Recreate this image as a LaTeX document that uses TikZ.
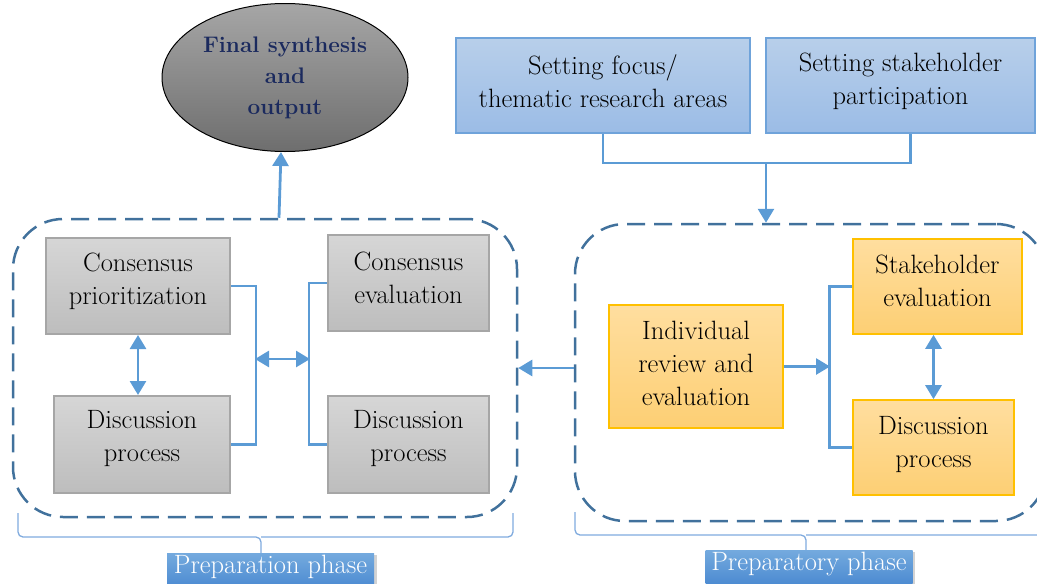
\documentclass[tikz,border=0pt]{standalone}
\usepackage{fontspec}
\usetikzlibrary{arrows.meta,shapes.geometric,shadows}

\definecolor{linkblue}{HTML}{5B9BD5}
\definecolor{dashblue}{HTML}{41719C}
\definecolor{braceblue}{HTML}{80ABDE}
\definecolor{graytop}{HTML}{D6D6D6}
\definecolor{graybot}{HTML}{BDBDBD}
\definecolor{grayedge}{HTML}{A6A6A6}
\definecolor{orangetop}{HTML}{FFDE9F}
\definecolor{orangebot}{HTML}{FDCF74}
\definecolor{orangeedge}{HTML}{FFC000}
\definecolor{bluetop}{HTML}{B8CFEA}
\definecolor{bluebot}{HTML}{9BBCE6}
\definecolor{blueedge}{HTML}{6FA3DA}
\definecolor{ovaltop}{HTML}{A6A6A6}
\definecolor{ovalbot}{HTML}{6E6E6E}
\definecolor{navy}{HTML}{1B2A5E}
\definecolor{tagtop}{HTML}{74AADE}
\definecolor{tagbot}{HTML}{4585CF}

\begin{document}
\begin{tikzpicture}[x=1pt,y=-1pt,
  txt/.style={font=\fontsize{26.5}{33}\selectfont, align=center, text=black, inner sep=1pt},
  lift/.style={txt, yshift=#1},
  graybox/.style={rectangle, draw=grayedge, line width=2pt, top color=graytop, bottom color=graybot},
  orangebox/.style={rectangle, draw=orangeedge, line width=1.6pt, top color=orangetop, bottom color=orangebot},
  bluebox/.style={rectangle, draw=blueedge, line width=1.6pt, top color=bluetop, bottom color=bluebot},
  conn/.style={draw=linkblue, line width=2.8pt},
  arr/.style={conn, -{Triangle[width=16pt,length=14pt]}},
  dbl/.style={conn, {Triangle[width=16pt,length=14pt]}-{Triangle[width=16pt,length=14pt]}},
  phasebox/.style={rectangle, draw=dashblue, line width=2.5pt, dash pattern=on 18pt off 9pt, rounded corners=50pt},
  bracket/.style={draw=braceblue, line width=1.3pt, rounded corners=5pt},
  tag/.style={rectangle, top color=tagtop, bottom color=tagbot, minimum width=207pt, minimum height=40pt, anchor=north,
    drop shadow={shadow xshift=2.5pt, shadow yshift=-1.5pt, opacity=0.35}},
  tagtext/.style={lift=6pt, text=white}
]
\useasboundingbox (0,0) rectangle (1037,584);

% final output
\node[ellipse, draw=black, line width=1pt, top color=ovaltop, bottom color=ovalbot,
  minimum width=246pt, minimum height=148pt, inner sep=0pt, align=center,
  font=\fontsize{22.5}{31}\selectfont\bfseries, text=navy] (fs) at (285,77.5) {Final synthesis\\and\\output};

% inputs
\node[bluebox, minimum width=294pt, minimum height=95pt,
  label={[lift=4pt]center:Setting focus/\\thematic research areas}] (b1) at (603,85.5) {};
\node[bluebox, minimum width=269pt, minimum height=95pt,
  label={[lift=4pt]center:Setting stakeholder\\participation}] (b2) at (900.5,85.5) {};

% phase containers
\node[phasebox, minimum width=504pt, minimum height=298pt] (lc) at (265,368) {};
\node[phasebox, minimum width=471pt, minimum height=297pt] (rc) at (810.5,372.5) {};

% preparation phase
\node[graybox, minimum width=184pt, minimum height=96pt,
  label={[lift=5pt]center:Consensus\\prioritization}] (cp) at (138,286) {};
\node[graybox, minimum width=176pt, minimum height=97pt,
  label={[lift=6pt]center:Discussion\\process}] (dl) at (142,444.5) {};
\node[graybox, minimum width=161pt, minimum height=96pt,
  label={[lift=5pt]center:Consensus\\evaluation}] (ce) at (408.5,283) {};
\node[graybox, minimum width=161pt, minimum height=97pt,
  label={[lift=6pt]center:Discussion\\process}] (dr) at (408.5,444.5) {};

% preparatory phase
\node[orangebox, minimum width=174pt, minimum height=123pt,
  label={[lift=3pt]center:Individual\\review and\\evaluation}] (ir) at (696,366.5) {};
\node[orangebox, minimum width=169pt, minimum height=95pt,
  label={[lift=6pt]center:Stakeholder\\evaluation}] (se) at (937.5,286.5) {};
\node[orangebox, minimum width=161pt, minimum height=95pt,
  label={[lift=3pt]center:Discussion\\process}] (dp) at (933.5,447.5) {};

% input merge
\coordinate (j) at (766,163);
\draw[conn] (b1.south) |- (j) -| ([xshift=10pt]b2.south);
\draw[arr] (j) -- (j |- rc.north);

% between phases and to output
\draw[arr] (rc.west |- lc.east) -- (lc.east);
\draw[arr] ([xshift=14pt]lc.north) -- ([xshift=-4pt]fs.south);

% preparation phase links
\draw[conn] (cp.east) -- ++(25,0) |- (dl.east);
\draw[conn] (ce.west) -- ++(-18,0) |- (dr.west);
\coordinate (lb) at (255,359);
\coordinate (rb) at (310,359);
\draw[dbl] (lb) -- (rb);
\draw[dbl] (cp.south) -- (cp.south |- dl.north);

% preparatory phase links
\draw[conn] (se.west) -- ++(-23,0) |- (dp.west);
\coordinate (rbr) at (830,366.5);
\draw[arr] (ir.east) -- (rbr);
\draw[dbl] (dp.north |- se.south) -- (dp.north);

% phase labels
\node[tag, label={[tagtext]center:Preparation phase}] (t1) at (270.5,553) {};
\node[tag, label={[tagtext]center:Preparatory phase}] (t2) at (809,550) {};

% brackets under the phases
\coordinate (l1) at (18,513);
\coordinate (l2) at (513,513);
\coordinate (lm) at (261,537);
\draw[bracket] (l1) |- (lm) -- (t1.north -| lm);
\draw[bracket] (l2) |- (lm);
\coordinate (r1) at (575,512);
\coordinate (r2) at (1046,512);
\coordinate (rm) at (806,535);
\draw[bracket] (r1) |- (rm) -- (t2.north -| rm);
\draw[bracket] (r2) |- (rm);
\end{tikzpicture}
\end{document}
